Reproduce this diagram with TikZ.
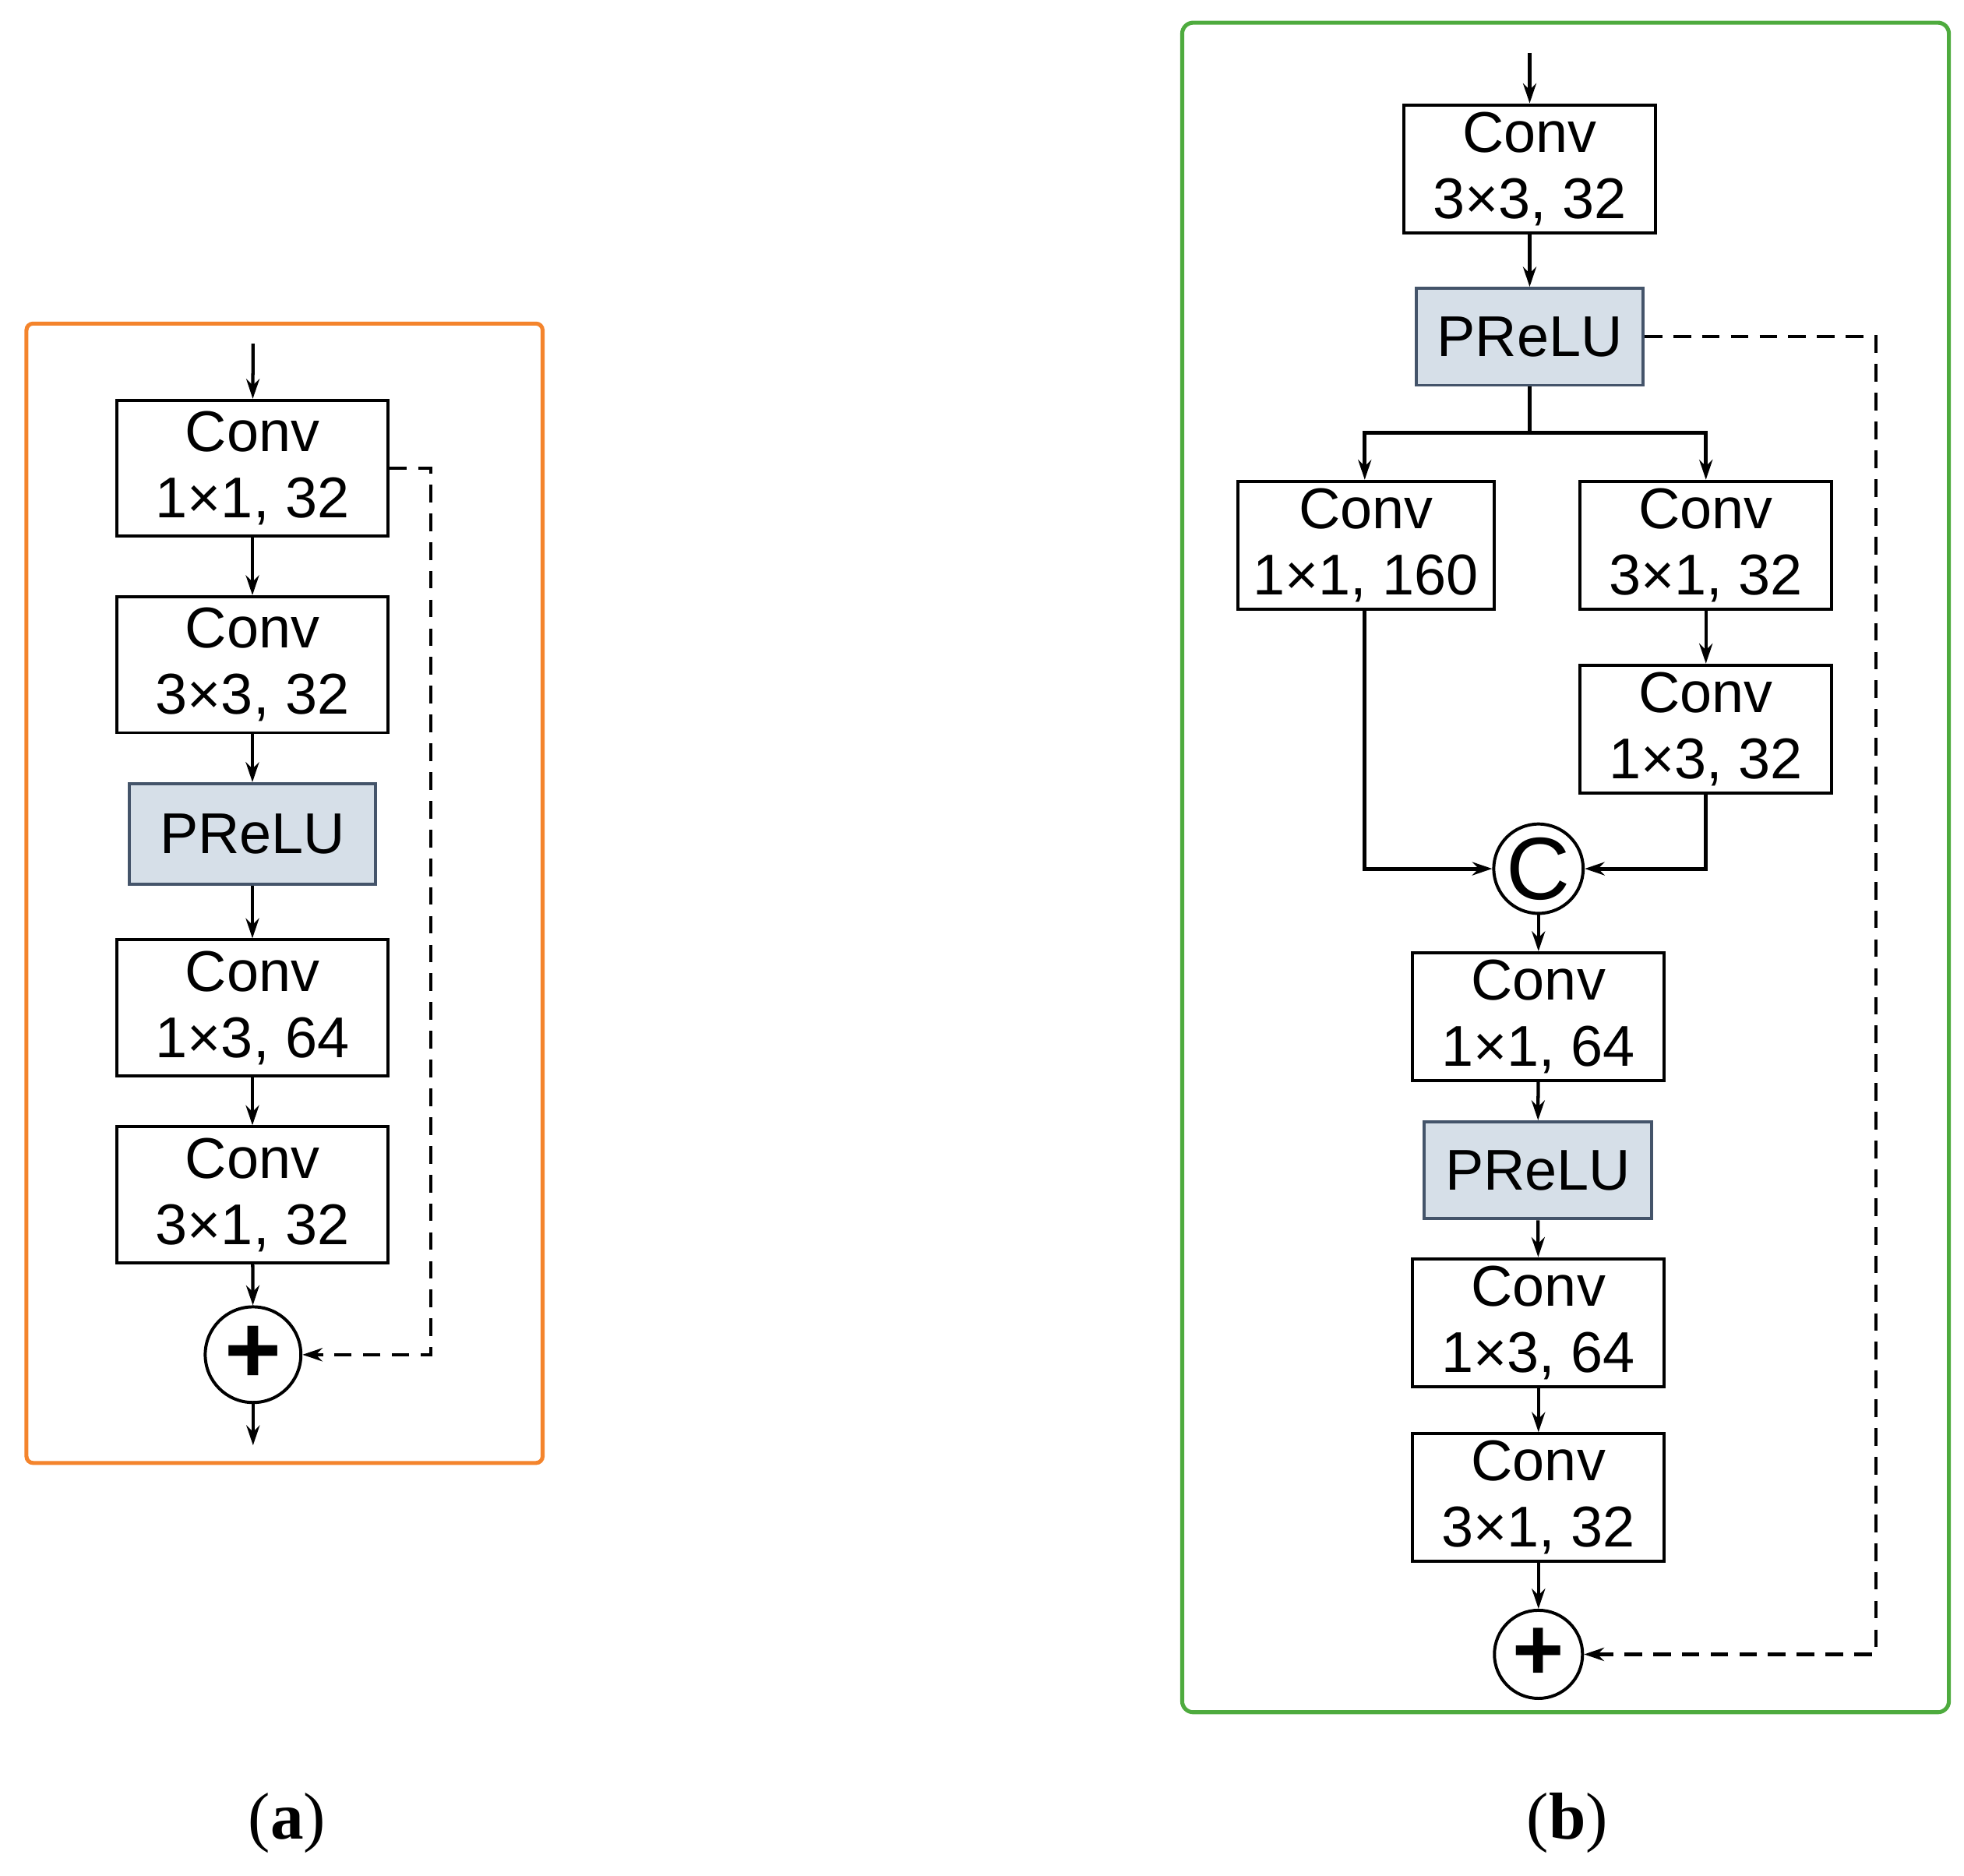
\documentclass[tikz,border=0pt]{standalone}
\usepackage{fontspec}
\setmainfont{Liberation Sans}
\newfontfamily\serifl{Liberation Serif}
\usetikzlibrary{arrows.meta}
\definecolor{pfill}{HTML}{D6DFE8}
\definecolor{pdraw}{HTML}{44546A}
\definecolor{orng}{HTML}{F4842C}
\definecolor{grn}{HTML}{4EAB3E}
\begin{document}
\begin{tikzpicture}[x=0.02cm,y=-0.02cm,
  every node/.style={font=\fontsize{26}{30}\selectfont, align=center, inner sep=0pt},
  box/.style={draw, line width=1.4pt, minimum width=4.3cm, minimum height=2.16cm},
  boxb/.style={draw, line width=1.4pt, minimum width=4cm, minimum height=2.03cm},
  prelu/.style={draw=pdraw, fill=pfill, line width=1.4pt, minimum height=1.6cm},
  circ/.style={draw, circle, line width=1.4pt},
  ar/.style={line width=1.5pt, -{Stealth[length=9pt,width=6pt]}},
  da/.style={ar, dashed, dash pattern=on 8pt off 5pt}]
\useasboundingbox (0,0) rectangle (1560,1490);
% (a)
\draw[orng, line width=1.8pt, rounded corners=3pt] (21,257) rectangle (431,1162);
\coordinate (ain) at (201,273);
\node[box] (a1) at (200.5,372) {Conv\\1×1, 32};
\node[box] (a2) at (200.5,528) {Conv\\3×3, 32};
\node[prelu, minimum width=3.9cm] (a3) at (200.5,662.5) {PReLU};
\node[box] (a4) at (200.5,800.5) {Conv\\1×3, 64};
\node[box] (a5) at (200.5,949) {Conv\\3×1, 32};
\node[circ, minimum size=1.52cm, font=\fontsize{44}{44}\selectfont\bfseries] (ap) at (201,1076) {+};
\coordinate (aout) at (201,1148);
\draw[ar] (ain) -- (a1);
\draw[ar] (a1) -- (a2);
\draw[ar] (a2) -- (a3);
\draw[ar] (a3) -- (a4);
\draw[ar] (a4) -- (a5);
\draw[ar] (a5) -- (ap);
\draw[ar] (ap) -- (aout);
\draw[da] (a1.east) -- (342,372) -- (342,1076) -- (ap.east);
\node[font=\fontsize{30}{30}\selectfont\serifl] (la) at (228,1448) {(\textbf{a})};
% (b)
\draw[grn, line width=1.8pt, rounded corners=5pt] (939,18) rectangle (1548,1360);
\coordinate (bin) at (1215,42);
\node[boxb] (b1) at (1215,134) {Conv\\3×3, 32};
\node[prelu, minimum width=3.6cm, minimum height=1.54cm] (b2) at (1215,267.5) {PReLU};
\coordinate (bs) at (1215,344);
\coordinate (bsl) at (1084,344);
\coordinate (bsr) at (1355,344);
\node[boxb, minimum width=4.08cm] (b3) at (1085,433) {Conv\\1×1, 160};
\node[boxb] (b4) at (1355,433) {Conv\\3×1, 32};
\node[boxb] (b5) at (1355,579) {Conv\\1×3, 32};
\node[circ, minimum size=1.4cm, font=\fontsize{40}{40}\selectfont] (bc) at (1222,690) {C};
\node[boxb] (b6) at (1222,807.5) {Conv\\1×1, 64};
\node[prelu, minimum width=3.62cm, minimum height=1.54cm] (b7) at (1221.5,929.5) {PReLU};
\node[boxb] (b8) at (1222,1050.5) {Conv\\1×3, 64};
\node[boxb] (b9) at (1222,1189.5) {Conv\\3×1, 32};
\node[circ, minimum size=1.4cm, font=\fontsize{40}{40}\selectfont\bfseries] (bp) at (1222,1314) {+};
\draw[ar] (bin) -- (b1);
\draw[ar] (b1) -- (b2);
\draw[line width=1.8pt] (b2) -- (bs);
\draw[ar, line width=1.8pt] (bs) -- (bsl) -- (b3.north -| bsl);
\draw[ar, line width=1.8pt] (bs) -- (bsr) -- (b4.north -| bsr);
\draw[ar] (b4) -- (b5);
\draw[ar, line width=1.8pt] (b3.south -| bsl) -- (1084,690) -- (bc.west);
\draw[ar, line width=1.8pt] (b5.south) -- (1355,690) -- (bc.east);
\draw[ar] (bc) -- (b6);
\draw[ar] (b6) -- (b7);
\draw[ar] (b7) -- (b8);
\draw[ar] (b8) -- (b9);
\draw[ar] (b9) -- (bp);
\draw[da] (b2.east) -- (1490,267.5) -- (1490,1314) -- (bp.east);
\node[font=\fontsize{30}{30}\selectfont\serifl] (lb) at (1245,1448) {(\textbf{b})};
\end{tikzpicture}
\end{document}
